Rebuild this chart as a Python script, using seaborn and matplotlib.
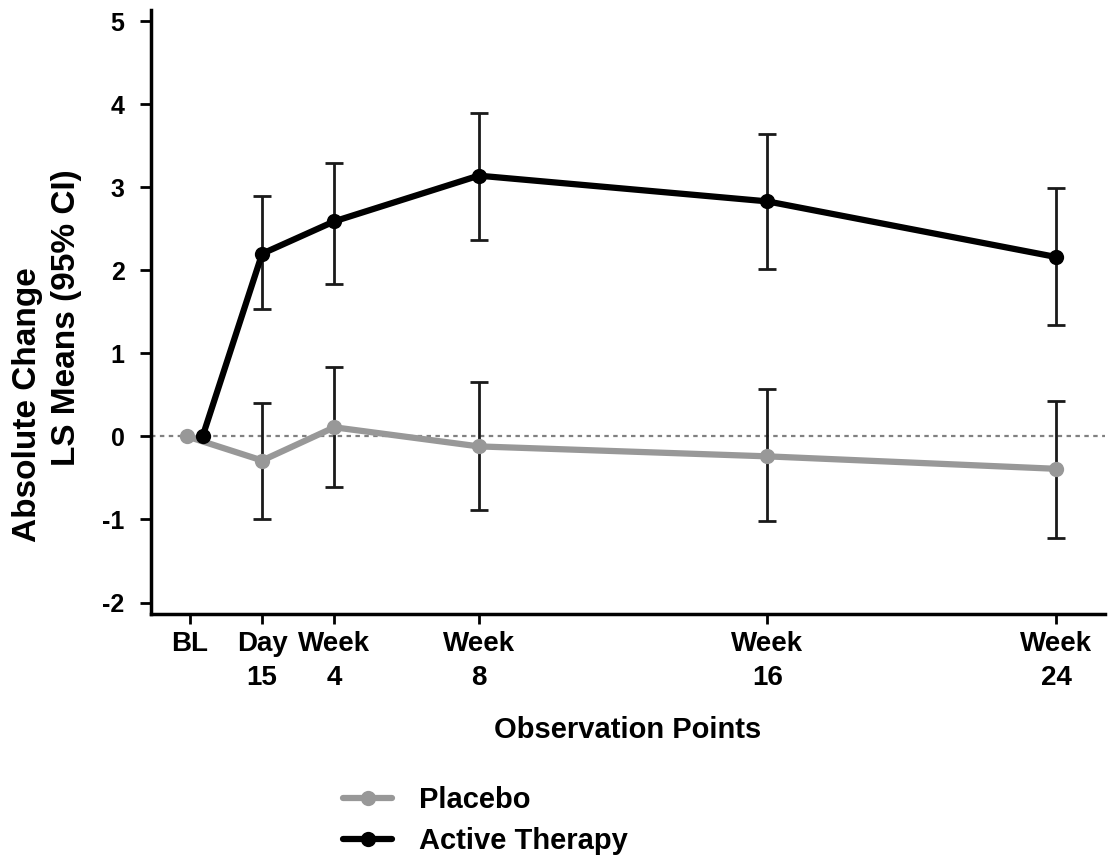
import numpy as np
import pandas as pd
import matplotlib
matplotlib.use("Agg")
import matplotlib.pyplot as plt
import seaborn as sns
from matplotlib.lines import Line2D

sns.set_style("ticks")
plt.rcParams['font.family'] = ['Liberation Sans', 'DejaVu Sans']
plt.rcParams['font.weight'] = 'bold'
for k in ["text.color", "axes.labelcolor", "xtick.color", "ytick.color"]:
    plt.rcParams[k] = "black"

tick_weeks = [0, 2, 4, 8, 16, 24]
tick_labels = ["BL", "Day\n15", "Week\n4", "Week\n8", "Week\n16", "Week\n24"]
y_ticks = [-2, -1, 0, 1, 2, 3, 4, 5]

placebo_x = [-0.08, 2, 4, 8, 16, 24]
placebo_mean = [0.0, -0.29, 0.11, -0.12, -0.24, -0.39]
placebo_lo = [np.nan, -0.99, -0.61, -0.88, -1.02, -1.22]
placebo_hi = [np.nan, 0.40, 0.83, 0.65, 0.57, 0.43]

active_x = [0.35, 2, 4, 8, 16, 24]
active_mean = [0.0, 2.20, 2.59, 3.14, 2.83, 2.16]
active_lo = [np.nan, 1.53, 1.84, 2.37, 2.02, 1.34]
active_hi = [np.nan, 2.90, 3.29, 3.89, 3.64, 2.99]

groups = ["Placebo", "Active Therapy"]
colors = {"Placebo": "#989898", "Active Therapy": "#000000"}

df = pd.concat([
    pd.DataFrame({"week": placebo_x, "mean": placebo_mean, "lo": placebo_lo,
                  "hi": placebo_hi, "group": "Placebo"}),
    pd.DataFrame({"week": active_x, "mean": active_mean, "lo": active_lo,
                  "hi": active_hi, "group": "Active Therapy"}),
], ignore_index=True)

fig = plt.figure(figsize=(11.15, 8.65), dpi=100)
ax = fig.add_axes([0.1354, 0.290, 0.8556, 0.698])

ax.axhline(0, color="#808080", linestyle=(0, (2, 2)), linewidth=1.6, zorder=1)

for g in groups:
    sub = df[df.group == g].dropna()
    ax.errorbar(sub.week, sub["mean"],
                yerr=[sub["mean"] - sub.lo, sub.hi - sub["mean"]],
                fmt="none", ecolor="#1a1a1a", elinewidth=2, capsize=6.5,
                capthick=2, zorder=2)

sns.lineplot(data=df, x="week", y="mean", hue="group", palette=colors,
             hue_order=groups, marker="o", markersize=11, markeredgewidth=0,
             linewidth=4.5, ax=ax, legend=False, zorder=3, sort=True,
             estimator=None)

ax.set_xlim(-1.08, 25.35)
ax.set_ylim(-2.14, 5.13)
ax.set_xticks(tick_weeks)
ax.set_xticklabels(tick_labels, fontsize=20, fontweight="bold", linespacing=1.42)
ax.set_yticks(y_ticks)
ax.set_yticklabels([str(v) for v in y_ticks], fontsize=18, fontweight="bold")
ax.tick_params(axis="x", direction="out", length=7, width=2, pad=5)
ax.tick_params(axis="y", direction="out", length=8, width=2, pad=11)
ax.set_xlabel("Observation Points", fontsize=21, fontweight="bold", labelpad=18)
ax.set_ylabel("")
fig.text(28 / 1115, 1 - 405 / 865, "Absolute Change", rotation=90,
         ha="center", va="center", fontsize=24, fontweight="bold")
fig.text(67 / 1115, 1 - 318 / 865, "LS Means (95% CI)", rotation=90,
         ha="center", va="center", fontsize=24, fontweight="bold")
for s in ["top", "right"]:
    ax.spines[s].set_visible(False)
for s in ["left", "bottom"]:
    ax.spines[s].set_linewidth(2.5)
    ax.spines[s].set_color("black")

handles = [Line2D([], [], color=colors[g], marker="o", markersize=11,
                  markeredgewidth=0, linewidth=4.5) for g in groups]
fig.legend(handles, groups, loc="upper left", bbox_to_anchor=(0.297, 0.105),
           frameon=False, prop={"weight": "bold", "size": 21},
           handlelength=1.7, handletextpad=0.9, labelspacing=0.45,
           borderaxespad=0)

fig.savefig("out.png", dpi=100, facecolor="white")
